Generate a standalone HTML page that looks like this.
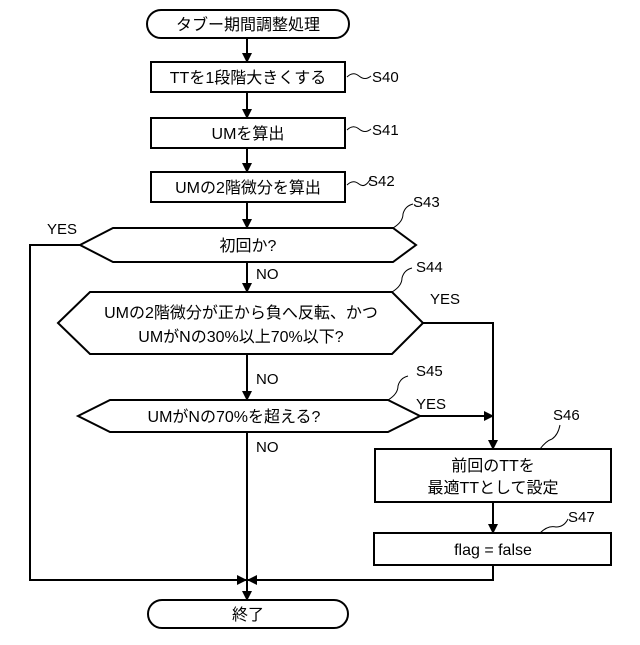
<!DOCTYPE html>
<html><head><meta charset="utf-8"><style>
body{margin:0;background:#fff}
svg text{font-family:"Liberation Sans","Noto Sans CJK JP",sans-serif;fill:#000}
</style></head><body>
<svg width="640" height="640" viewBox="0 0 640 640" xmlns="http://www.w3.org/2000/svg">
<defs><marker id="a" markerWidth="10" markerHeight="10" refX="9" refY="5" orient="auto" markerUnits="userSpaceOnUse"><path d="M0,0 L10,5 L0,10 z" fill="#000"/></marker></defs>
<g fill="none" stroke="#000" stroke-width="2">
<rect x="147" y="10" width="202" height="28" rx="14"/>
<rect x="151" y="62" width="194" height="30"/>
<rect x="151" y="118" width="194" height="30"/>
<rect x="151" y="172" width="194" height="30"/>
<polygon points="80,245 113,228 393,228 416,245 393,262 113,262"/>
<polygon points="58,323 90,292 392,292 423,323 392,354 90,354"/>
<polygon points="78,416 110,400 388,400 420,416 388,432 110,432"/>
<rect x="375" y="449" width="236" height="53"/>
<rect x="374" y="533" width="237" height="32"/>
<rect x="148" y="600" width="200" height="28" rx="14"/>
<line x1="247" y1="38" x2="247" y2="62" marker-end="url(#a)"/>
<line x1="247" y1="92" x2="247" y2="118" marker-end="url(#a)"/>
<line x1="247" y1="148" x2="247" y2="172" marker-end="url(#a)"/>
<line x1="247" y1="202" x2="247" y2="228" marker-end="url(#a)"/>
<line x1="247" y1="262" x2="247" y2="292" marker-end="url(#a)"/>
<line x1="247" y1="354" x2="247" y2="400" marker-end="url(#a)"/>
<line x1="247" y1="432" x2="247" y2="600" marker-end="url(#a)"/>
<polyline points="80,245 30,245 30,580 246,580" marker-end="url(#a)"/>
<polyline points="423,323 493,323 493,449" marker-end="url(#a)"/>
<line x1="420" y1="416" x2="493" y2="416" marker-end="url(#a)"/>
<line x1="493" y1="502" x2="493" y2="533" marker-end="url(#a)"/>
<polyline points="493,565 493,580 248,580" marker-end="url(#a)"/>
<g stroke-width="1">
<path d="M347,77 q6,-6 12,-1 q6,5 12,0"/>
<path d="M347,130 q6,-6 12,-1 q6,5 12,0"/>
<path d="M347,185 q6,-6 12,-1 q6,5 12,-6"/>
<path d="M393,228 q10,-6 10,-14 q2,-8 10,-10"/>
<path d="M392,292 q10,-6 10,-14 q2,-8 10,-10"/>
<path d="M388,400 q10,-6 10,-14 q2,-8 10,-10"/>
<path d="M540,449 q6,-8 12,-10 q6,-4 8,-14"/>
<path d="M540,533 q8,-8 16,-6 q8,0 12,-8"/>
</g>
</g>
<g font-size="16" text-anchor="middle">
<text x="248" y="30">タブー期間調整処理</text>
<text x="248" y="83">TTを1段階大きくする</text>
<text x="248" y="139">UMを算出</text>
<text x="248" y="193">UMの2階微分を算出</text>
<text x="248" y="251">初回か?</text>
<text x="241" y="318">UMの2階微分が正から負へ反転、かつ</text>
<text x="241" y="342">UMがNの30%以上70%以下?</text>
<text x="234" y="422">UMがNの70%を超える?</text>
<text x="493" y="471">前回のTTを</text>
<text x="493" y="493">最適TTとして設定</text>
<text x="493" y="555">flag = false</text>
<text x="248" y="620">終了</text>
</g>
<g font-size="15">
<text x="372" y="82">S40</text>
<text x="372" y="135">S41</text>
<text x="368" y="186">S42</text>
<text x="413" y="207">S43</text>
<text x="416" y="272">S44</text>
<text x="416" y="376">S45</text>
<text x="553" y="420">S46</text>
<text x="568" y="522">S47</text>
<text x="47" y="234">YES</text>
<text x="430" y="304">YES</text>
<text x="416" y="409">YES</text>
<text x="256" y="279">NO</text>
<text x="256" y="384">NO</text>
<text x="256" y="452">NO</text>
</g>
</svg>
</body></html>
